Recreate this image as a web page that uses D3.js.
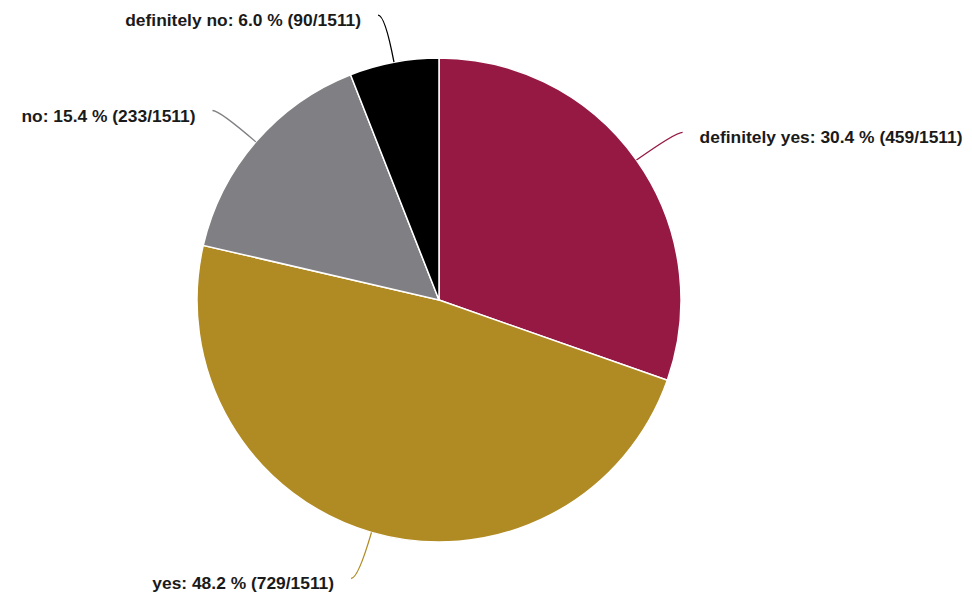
<!DOCTYPE html>
<html>
  <head>
    <meta charset="utf-8">
    <title>Answers</title>
    <script src="https://d3js.org/d3.v7.min.js"></script>
    <style>
      body { margin: 0; background: #fff; }
      .label { font-family: "Liberation Sans", Arial, Helvetica, sans-serif; font-weight: bold; font-size: 17.4px; fill: #1a1a1a; }
    </style>
  </head>
  <body>
    <script type="text/javascript">
    // data, clockwise from 12 o'clock
    var categories = ['definitely yes', 'yes', 'no', 'definitely no'];
    var counts = [459, 729, 233, 90];
    var total = 1511;
    var colors = ['#951942', '#b08a22', '#807f83', '#000000'];

    var width = 972,
        height = 596,
        cx = 439,
        cy = 300,
        radius = 242;

    var svg = d3.select('body').append('svg')
        .attr('width', width)
        .attr('height', height)
      .append('g')
        .attr('transform', 'translate(' + cx + ',' + cy + ')');

    var data = categories.map(function(c, i) {
      return {name: c, count: counts[i], color: colors[i]};
    });

    var pie = d3.pie()
        .sort(null)
        .value(function(d) { return d.count; });

    var arc = d3.arc().innerRadius(0).outerRadius(radius);

    var arcs = pie(data);

    // slices
    svg.selectAll('.slice')
      .data(arcs)
      .enter()
      .append('path')
      .attr('class', 'slice')
      .attr('d', arc)
      .attr('fill', function(d) { return d.data.color; })
      .attr('stroke', '#fff')
      .attr('stroke-width', 1.5);

    // point at radius r on the middle angle of a slice
    var pointAt = function(d, r) {
      var a = (d.startAngle + d.endAngle) / 2;
      return [r * Math.sin(a), -r * Math.cos(a)];
    };
    var side = function(d) {
      return (d.startAngle + d.endAngle) / 2 < Math.PI ? 1 : -1;
    };

    // connector lines
    svg.selectAll('.connector')
      .data(arcs)
      .enter()
      .append('path')
      .attr('class', 'connector')
      .attr('fill', 'none')
      .attr('stroke', function(d) { return d.data.color; })
      .attr('stroke-width', 1.3)
      .attr('d', function(d) {
        var p0 = pointAt(d, radius);
        var c = pointAt(d, radius + 48);
        var e = [c[0] + side(d) * 7, c[1]];
        return 'M' + p0 + 'Q' + c + ' ' + e;
      });

    // labels
    svg.selectAll('.label')
      .data(arcs)
      .enter()
      .append('text')
      .attr('class', 'label')
      .attr('x', function(d) { return pointAt(d, radius + 48)[0] + side(d) * 24; })
      .attr('y', function(d) { return pointAt(d, radius + 48)[1] + 11; })
      .attr('text-anchor', function(d) { return side(d) > 0 ? 'start' : 'end'; })
      .text(function(d) {
        var pct = (d.data.count / total * 100).toFixed(1);
        return d.data.name + ': ' + pct + ' % (' + d.data.count + '/' + total + ')';
      });
    </script>
  </body>
</html>
